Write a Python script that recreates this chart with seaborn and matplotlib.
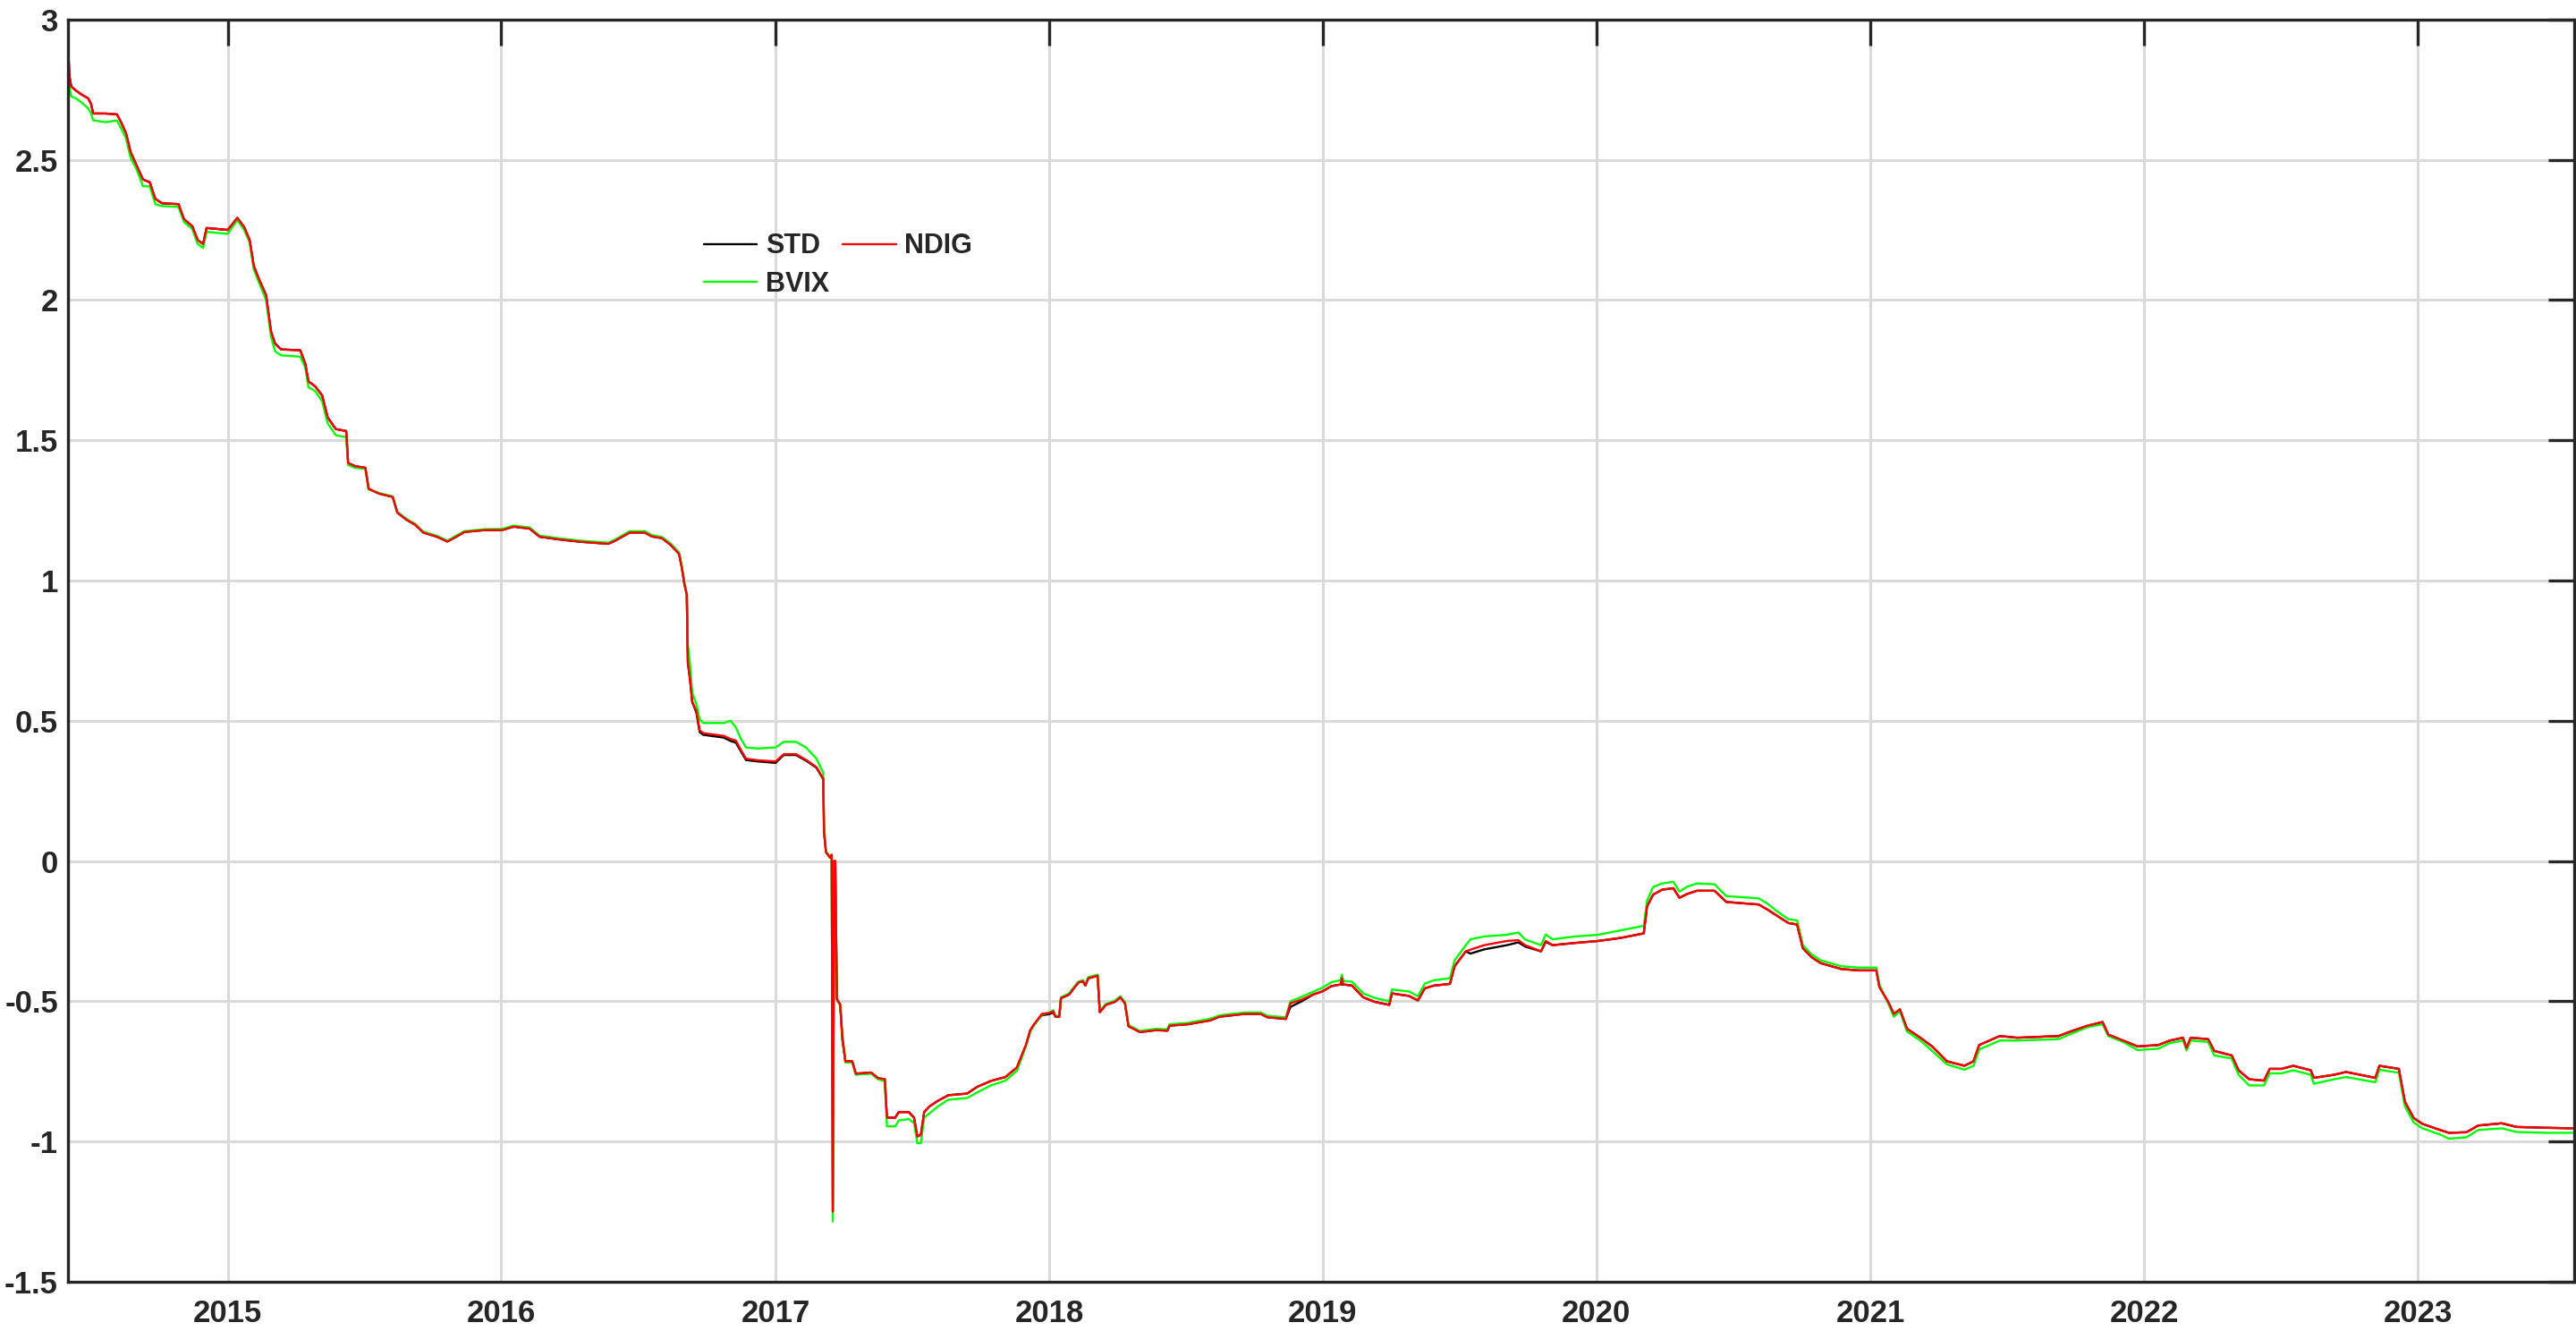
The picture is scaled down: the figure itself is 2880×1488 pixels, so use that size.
import numpy as np
import pandas as pd
import matplotlib
matplotlib.use("Agg")
import matplotlib.pyplot as plt
import matplotlib.dates as mdates
import seaborn as sns

# ---- data (decimal years) ----
years = [
 2014.417, 2014.421, 2014.428, 2014.445, 2014.465, 2014.490, 2014.500, 2014.508, 2014.553, 2014.595,
 2014.610, 2014.628, 2014.645, 2014.665, 2014.690, 2014.715, 2014.735, 2014.760, 2014.820, 2014.840,
 2014.870, 2014.890, 2014.910, 2014.9225, 2015.000, 2015.035, 2015.060, 2015.080, 2015.095, 2015.115,
 2015.140, 2015.158, 2015.173, 2015.195, 2015.265, 2015.283, 2015.295, 2015.320, 2015.345, 2015.365,
 2015.395, 2015.433, 2015.440, 2015.465, 2015.503, 2015.515, 2015.553, 2015.603, 2015.620, 2015.653,
 2015.685, 2015.715, 2015.765, 2015.803, 2015.835, 2015.865, 2015.940, 2016.003, 2016.045, 2016.103,
 2016.140, 2016.215, 2016.290, 2016.390, 2016.415, 2016.468, 2016.523, 2016.549, 2016.586, 2016.617,
 2016.648, 2016.658, 2016.667, 2016.676, 2016.680, 2016.688, 2016.696, 2016.711, 2016.723, 2016.736,
 2016.811, 2016.836, 2016.855, 2016.874, 2016.892, 2016.936, 2017.000, 2017.030, 2017.074, 2017.111,
 2017.149, 2017.174, 2017.177, 2017.184, 2017.199, 2017.205, 2017.209, 2017.214, 2017.218, 2017.224,
 2017.236, 2017.244, 2017.255, 2017.280, 2017.293, 2017.349, 2017.374, 2017.399, 2017.407, 2017.437,
 2017.450, 2017.487, 2017.506, 2017.518, 2017.531, 2017.543, 2017.562, 2017.593, 2017.631, 2017.700,
 2017.737, 2017.787, 2017.840, 2017.882, 2017.915, 2017.931, 2017.945, 2017.973, 2018.000, 2018.015,
 2018.023, 2018.037, 2018.043, 2018.073, 2018.090, 2018.107, 2018.123, 2018.132, 2018.143, 2018.177,
 2018.185, 2018.207, 2018.240, 2018.260, 2018.277, 2018.290, 2018.332, 2018.390, 2018.432, 2018.440,
 2018.507, 2018.590, 2018.623, 2018.715, 2018.773, 2018.798, 2018.865, 2018.882, 2018.923, 2018.965,
 2018.998, 2019.032, 2019.065, 2019.070, 2019.075, 2019.107, 2019.148, 2019.190, 2019.243, 2019.253,
 2019.315, 2019.348, 2019.373, 2019.407, 2019.465, 2019.482, 2019.523, 2019.540, 2019.590, 2019.673,
 2019.715, 2019.740, 2019.798, 2019.815, 2019.840, 2019.923, 2020.007, 2020.090, 2020.173, 2020.185,
 2020.207, 2020.240, 2020.281, 2020.303, 2020.330, 2020.367, 2020.431, 2020.474, 2020.592, 2020.624,
 2020.657, 2020.700, 2020.732, 2020.753, 2020.785, 2020.818, 2020.893, 2020.957, 2021.021, 2021.032,
 2021.064, 2021.085, 2021.107, 2021.133, 2021.182, 2021.225, 2021.279, 2021.343, 2021.376, 2021.397,
 2021.472, 2021.536, 2021.687, 2021.730, 2021.794, 2021.848, 2021.869, 2021.923, 2021.976, 2022.052,
 2022.094, 2022.142, 2022.155, 2022.170, 2022.234, 2022.256, 2022.320, 2022.345, 2022.384, 2022.438,
 2022.459, 2022.502, 2022.545, 2022.609, 2022.620, 2022.695, 2022.738, 2022.845, 2022.860, 2022.931,
 2022.953, 2022.985, 2023.017, 2023.082, 2023.114, 2023.178, 2023.221, 2023.307, 2023.361, 2023.468,
 2023.565,
]

ndig = [
 2.890, 2.800, 2.761, 2.747, 2.733, 2.719, 2.700, 2.665, 2.665, 2.662,
 2.634, 2.595, 2.527, 2.484, 2.430, 2.420, 2.361, 2.345, 2.342, 2.288,
 2.264, 2.214, 2.200, 2.257, 2.250, 2.293, 2.260, 2.214, 2.122, 2.072,
 2.018, 1.888, 1.845, 1.824, 1.821, 1.774, 1.710, 1.692, 1.660, 1.582,
 1.540, 1.533, 1.419, 1.408, 1.402, 1.327, 1.310, 1.298, 1.242, 1.217,
 1.199, 1.171, 1.156, 1.139, 1.156, 1.173, 1.180, 1.180, 1.192, 1.185,
 1.156, 1.146, 1.138, 1.131, 1.142, 1.171, 1.171, 1.157, 1.151, 1.127,
 1.095, 1.046, 0.990, 0.950, 0.708, 0.647, 0.567, 0.536, 0.466, 0.456,
 0.446, 0.435, 0.430, 0.395, 0.365, 0.359, 0.355, 0.381, 0.381, 0.361,
 0.335, 0.294, 0.103, 0.032, 0.012, 0.022, -1.250, 0.000, 0.000, -0.492,
 -0.512, -0.623, -0.714, -0.714, -0.758, -0.754, -0.774, -0.778, -0.915, -0.915,
 -0.895, -0.895, -0.915, -0.982, -0.976, -0.895, -0.875, -0.855, -0.835, -0.829,
 -0.805, -0.784, -0.770, -0.736, -0.656, -0.603, -0.582, -0.545, -0.542, -0.536,
 -0.555, -0.555, -0.489, -0.476, -0.454, -0.433, -0.428, -0.444, -0.418, -0.409,
 -0.539, -0.513, -0.502, -0.486, -0.507, -0.589, -0.610, -0.603, -0.605, -0.587,
 -0.582, -0.568, -0.555, -0.545, -0.545, -0.557, -0.563, -0.507, -0.494, -0.476,
 -0.465, -0.446, -0.440, -0.417, -0.440, -0.444, -0.486, -0.502, -0.513, -0.472,
 -0.481, -0.497, -0.454, -0.444, -0.438, -0.375, -0.322, -0.316, -0.300, -0.285,
 -0.282, -0.300, -0.322, -0.285, -0.300, -0.292, -0.285, -0.274, -0.258, -0.162,
 -0.120, -0.102, -0.097, -0.131, -0.118, -0.106, -0.106, -0.146, -0.155, -0.173,
 -0.194, -0.221, -0.226, -0.311, -0.343, -0.364, -0.385, -0.390, -0.390, -0.449,
 -0.502, -0.545, -0.529, -0.598, -0.630, -0.661, -0.714, -0.730, -0.714, -0.656,
 -0.624, -0.630, -0.624, -0.608, -0.587, -0.574, -0.619, -0.640, -0.661, -0.656,
 -0.640, -0.630, -0.667, -0.630, -0.635, -0.677, -0.693, -0.746, -0.778, -0.783,
 -0.741, -0.741, -0.730, -0.746, -0.773, -0.762, -0.752, -0.773, -0.730, -0.741,
 -0.858, -0.916, -0.937, -0.959, -0.969, -0.967, -0.943, -0.935, -0.948, -0.951,
 -0.953,
]

bvix = [
 2.820, 2.760, 2.726, 2.719, 2.705, 2.683, 2.665, 2.641, 2.634, 2.640,
 2.612, 2.577, 2.506, 2.470, 2.406, 2.405, 2.342, 2.335, 2.332, 2.278,
 2.254, 2.200, 2.186, 2.243, 2.236, 2.285, 2.250, 2.205, 2.110, 2.060,
 2.001, 1.870, 1.817, 1.803, 1.798, 1.760, 1.689, 1.675, 1.639, 1.561,
 1.518, 1.511, 1.412, 1.402, 1.398, 1.325, 1.312, 1.300, 1.245, 1.220,
 1.202, 1.174, 1.159, 1.142, 1.160, 1.176, 1.183, 1.184, 1.196, 1.189,
 1.160, 1.150, 1.142, 1.135, 1.146, 1.176, 1.176, 1.162, 1.155, 1.132,
 1.100, 1.050, 0.995, 0.955, 0.770, 0.700, 0.600, 0.560, 0.506, 0.492,
 0.492, 0.500, 0.476, 0.435, 0.405, 0.401, 0.405, 0.425, 0.425, 0.405,
 0.365, 0.315, 0.110, 0.035, 0.015, 0.022, -1.285, 0.000, 0.000, -0.495,
 -0.515, -0.628, -0.718, -0.718, -0.762, -0.758, -0.778, -0.785, -0.946, -0.946,
 -0.925, -0.920, -0.935, -1.006, -1.006, -0.915, -0.900, -0.875, -0.851, -0.845,
 -0.825, -0.800, -0.783, -0.748, -0.660, -0.608, -0.585, -0.548, -0.540, -0.532,
 -0.552, -0.552, -0.486, -0.472, -0.450, -0.430, -0.425, -0.440, -0.414, -0.405,
 -0.535, -0.510, -0.498, -0.482, -0.503, -0.585, -0.606, -0.598, -0.600, -0.582,
 -0.577, -0.562, -0.550, -0.540, -0.540, -0.552, -0.557, -0.500, -0.484, -0.466,
 -0.452, -0.432, -0.425, -0.405, -0.428, -0.430, -0.472, -0.488, -0.500, -0.458,
 -0.465, -0.482, -0.437, -0.425, -0.418, -0.354, -0.300, -0.279, -0.269, -0.263,
 -0.255, -0.280, -0.300, -0.262, -0.279, -0.269, -0.263, -0.247, -0.231, -0.141,
 -0.093, -0.080, -0.074, -0.109, -0.092, -0.080, -0.083, -0.125, -0.133, -0.152,
 -0.178, -0.207, -0.212, -0.300, -0.333, -0.354, -0.375, -0.380, -0.380, -0.440,
 -0.507, -0.555, -0.535, -0.608, -0.640, -0.677, -0.725, -0.744, -0.730, -0.672,
 -0.640, -0.640, -0.635, -0.617, -0.592, -0.582, -0.624, -0.645, -0.674, -0.669,
 -0.649, -0.640, -0.675, -0.640, -0.645, -0.693, -0.704, -0.762, -0.800, -0.800,
 -0.757, -0.757, -0.746, -0.762, -0.794, -0.778, -0.770, -0.789, -0.744, -0.755,
 -0.874, -0.932, -0.953, -0.975, -0.990, -0.985, -0.959, -0.953, -0.966, -0.969,
 -0.969,
]

std = [
 2.890, 2.800, 2.761, 2.747, 2.733, 2.719, 2.700, 2.665, 2.665, 2.662,
 2.634, 2.595, 2.527, 2.484, 2.430, 2.420, 2.361, 2.345, 2.342, 2.288,
 2.264, 2.214, 2.200, 2.257, 2.250, 2.293, 2.260, 2.214, 2.122, 2.072,
 2.018, 1.888, 1.845, 1.824, 1.821, 1.774, 1.710, 1.692, 1.660, 1.582,
 1.540, 1.533, 1.419, 1.408, 1.402, 1.327, 1.310, 1.298, 1.242, 1.217,
 1.199, 1.171, 1.156, 1.139, 1.156, 1.173, 1.180, 1.180, 1.192, 1.185,
 1.156, 1.146, 1.138, 1.131, 1.142, 1.171, 1.171, 1.157, 1.151, 1.127,
 1.095, 1.046, 0.990, 0.950, 0.708, 0.647, 0.567, 0.530, 0.460, 0.450,
 0.440, 0.428, 0.422, 0.390, 0.360, 0.355, 0.350, 0.378, 0.378, 0.358,
 0.333, 0.292, 0.103, 0.032, 0.012, 0.022, -1.250, 0.000, 0.000, -0.492,
 -0.512, -0.640, -0.714, -0.714, -0.758, -0.754, -0.774, -0.778, -0.915, -0.915,
 -0.895, -0.895, -0.915, -0.982, -0.976, -0.895, -0.875, -0.855, -0.835, -0.829,
 -0.805, -0.784, -0.770, -0.736, -0.656, -0.603, -0.582, -0.550, -0.546, -0.540,
 -0.555, -0.555, -0.489, -0.476, -0.454, -0.433, -0.428, -0.444, -0.418, -0.409,
 -0.539, -0.513, -0.502, -0.486, -0.507, -0.589, -0.610, -0.603, -0.605, -0.587,
 -0.582, -0.568, -0.555, -0.545, -0.545, -0.557, -0.563, -0.520, -0.500, -0.476,
 -0.465, -0.446, -0.440, -0.440, -0.440, -0.444, -0.486, -0.502, -0.513, -0.472,
 -0.481, -0.497, -0.454, -0.444, -0.438, -0.375, -0.322, -0.330, -0.315, -0.300,
 -0.290, -0.305, -0.322, -0.288, -0.300, -0.292, -0.285, -0.274, -0.258, -0.162,
 -0.120, -0.102, -0.097, -0.131, -0.118, -0.106, -0.106, -0.146, -0.155, -0.173,
 -0.194, -0.221, -0.226, -0.311, -0.343, -0.364, -0.385, -0.390, -0.390, -0.449,
 -0.502, -0.545, -0.529, -0.598, -0.630, -0.661, -0.714, -0.730, -0.714, -0.656,
 -0.624, -0.630, -0.624, -0.608, -0.587, -0.574, -0.619, -0.640, -0.661, -0.656,
 -0.640, -0.630, -0.667, -0.630, -0.635, -0.677, -0.693, -0.746, -0.778, -0.783,
 -0.741, -0.741, -0.730, -0.746, -0.773, -0.762, -0.752, -0.773, -0.730, -0.741,
 -0.858, -0.916, -0.937, -0.959, -0.969, -0.967, -0.943, -0.935, -0.948, -0.951,
 -0.953,
]

series_names = ["STD", "BVIX", "NDIG"]
series_colors = {"STD": "#000000", "BVIX": "#00ff00", "NDIG": "#ff0000"}
y_ticks = [-1.5, -1, -0.5, 0, 0.5, 1, 1.5, 2, 2.5, 3]
y_tick_labels = ["-1.5", "-1", "-0.5", "0", "0.5", "1", "1.5", "2", "2.5", "3"]
x_start, x_end = 2014.416, 2023.572


def dec_to_date(y):
    yr = int(np.floor(y))
    start = pd.Timestamp(year=yr, month=1, day=1)
    end = pd.Timestamp(year=yr + 1, month=1, day=1)
    return start + (end - start) * (y - yr)


dates = [dec_to_date(y) for y in years]
df = pd.concat([
    pd.DataFrame({"date": dates, "value": std, "series": "STD"}),
    pd.DataFrame({"date": dates, "value": bvix, "series": "BVIX"}),
    pd.DataFrame({"date": dates, "value": ndig, "series": "NDIG"}),
], ignore_index=True)

sns.set_style("white")
plt.rcParams["font.family"] = ["Liberation Sans", "DejaVu Sans"]
plt.rcParams["axes.unicode_minus"] = False

fig = plt.figure(figsize=(28.8, 14.88), dpi=100)
ax = fig.add_axes([0.0264, 0.037, 0.9729, 0.9483])

sns.lineplot(data=df, x="date", y="value", hue="series", hue_order=series_names,
             palette=series_colors, estimator=None, sort=True, linewidth=1.7, ax=ax)

ax.set_xlim(dec_to_date(x_start), dec_to_date(x_end))
ax.set_ylim(-1.5, 3)
ax.set_yticks(y_ticks)
ax.set_yticklabels(y_tick_labels)
ax.xaxis.set_major_locator(mdates.YearLocator())
ax.xaxis.set_major_formatter(mdates.DateFormatter("%Y"))
ax.set_xlabel("")
ax.set_ylabel("")

ax.grid(True, color="#dadada", linewidth=2.2)
ax.set_axisbelow(True)
for s in ax.spines.values():
    s.set_visible(True)
    s.set_color("#262626")
    s.set_linewidth(2.4)

ax.tick_params(axis="both", which="major", direction="in", length=21, width=2.4,
               color="#262626", labelcolor="#262626", labelsize=25,
               top=True, right=True)
ax.tick_params(axis="x", pad=14)
ax.tick_params(axis="y", pad=8)
for lab in ax.get_xticklabels() + ax.get_yticklabels():
    lab.set_fontweight("bold")

handles, labels = ax.get_legend_handles_labels()
leg = ax.legend(handles, labels, loc="upper left", bbox_to_anchor=(0.2537, 0.831),
                ncol=2, frameon=False, borderpad=0, borderaxespad=0,
                handlelength=1.95, handletextpad=0.3, columnspacing=0.5,
                labelspacing=0.4, prop={"weight": "bold", "size": 22})
for line in leg.get_lines():
    line.set_linewidth(1.7)

fig.savefig("out.png", dpi=100, facecolor="white")
